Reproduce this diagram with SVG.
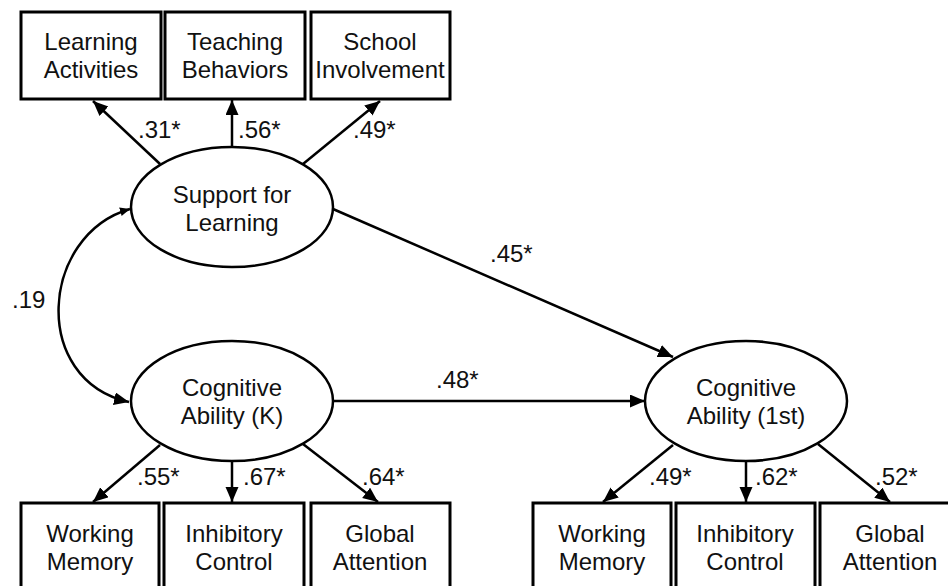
<svg xmlns="http://www.w3.org/2000/svg" width="948" height="586" viewBox="0 0 948 586">
  <defs>
    <style>
      .box { fill: #fff; stroke: #000; stroke-width: 3; }
      .lat { fill: #fff; stroke: #000; stroke-width: 2.5; }
      .lbl { font-family: "Liberation Sans", Arial, sans-serif; font-size: 24px; fill: #111; text-anchor: middle; }
      .coef { font-family: "Liberation Sans", Arial, sans-serif; font-size: 24px; fill: #111; }
      .path { fill: none; stroke: #000; stroke-width: 2.5; marker-end: url(#arrow); }
    </style>
    <marker id="arrow" markerUnits="userSpaceOnUse" markerWidth="16" markerHeight="14" refX="15" refY="6.5" orient="auto">
      <path d="M0,0 L15,6.5 L0,13 z" fill="#000"/>
    </marker>
    <marker id="arrowSmall" markerUnits="userSpaceOnUse" markerWidth="12" markerHeight="10" refX="10" refY="4.5" orient="auto-start-reverse">
      <path d="M0,0 L10,4.5 L0,9 z" fill="#000"/>
    </marker>
  </defs>

  <!-- connectors -->
  <g id="connectors">
    <!-- Support for Learning indicators -->
    <line class="path" x1="160" y1="164" x2="93" y2="101"/>
    <line class="path" x1="232" y1="147" x2="232" y2="100"/>
    <line class="path" x1="303" y1="164" x2="380" y2="101"/>
    <!-- structural paths -->
    <line class="path" x1="333" y1="209" x2="673" y2="357"/>
    <line class="path" x1="333" y1="401" x2="645" y2="401"/>
    <!-- covariance -->
    <path d="M130,209 C40,235 30,380 129,402" fill="none" stroke="#000" stroke-width="2.5" marker-start="url(#arrowSmall)" marker-end="url(#arrow)"/>
    <!-- Cognitive Ability (K) indicators -->
    <line class="path" x1="160" y1="445" x2="93" y2="502"/>
    <line class="path" x1="232" y1="462" x2="232" y2="502"/>
    <line class="path" x1="303" y1="444" x2="378" y2="502"/>
    <!-- Cognitive Ability (1st) indicators -->
    <line class="path" x1="673" y1="445" x2="603" y2="502"/>
    <line class="path" x1="746" y1="462" x2="746" y2="502"/>
    <line class="path" x1="818" y1="444" x2="890" y2="502"/>

    <!-- coefficients -->
    <text class="coef" x="138" y="138">.31*</text>
    <text class="coef" x="238" y="138">.56*</text>
    <text class="coef" x="353" y="138">.49*</text>
    <text class="coef" x="490" y="262">.45*</text>
    <text class="coef" x="12" y="308">.19</text>
    <text class="coef" x="436" y="388">.48*</text>
    <text class="coef" x="137" y="485">.55*</text>
    <text class="coef" x="243" y="485">.67*</text>
    <text class="coef" x="362" y="485">.64*</text>
    <text class="coef" x="649" y="485">.49*</text>
    <text class="coef" x="755" y="485">.62*</text>
    <text class="coef" x="875" y="485">.52*</text>
  </g>

  <!-- top indicators -->
  <g id="learning-activities">
    <rect class="box" x="21" y="12" width="140" height="87"/>
    <text class="lbl" x="91" y="50">Learning</text>
    <text class="lbl" x="91" y="78">Activities</text>
  </g>
  <g id="teaching-behaviors">
    <rect class="box" x="165" y="12" width="140" height="87"/>
    <text class="lbl" x="235" y="50">Teaching</text>
    <text class="lbl" x="235" y="78">Behaviors</text>
  </g>
  <g id="school-involvement">
    <rect class="box" x="311" y="12" width="139" height="87"/>
    <text class="lbl" x="380" y="50">School</text>
    <text class="lbl" x="380" y="78">Involvement</text>
  </g>

  <!-- latent variables -->
  <g id="support-for-learning">
    <ellipse class="lat" cx="232" cy="207" rx="101" ry="60"/>
    <text class="lbl" x="232" y="203">Support for</text>
    <text class="lbl" x="232" y="231">Learning</text>
  </g>
  <g id="cognitive-k">
    <ellipse class="lat" cx="232" cy="401" rx="101" ry="60"/>
    <text class="lbl" x="232" y="396">Cognitive</text>
    <text class="lbl" x="232" y="424">Ability (K)</text>
  </g>
  <g id="cognitive-1st">
    <ellipse class="lat" cx="746" cy="401" rx="101" ry="60"/>
    <text class="lbl" x="746" y="396">Cognitive</text>
    <text class="lbl" x="746" y="424">Ability (1st)</text>
  </g>

  <!-- bottom indicators, kindergarten -->
  <g id="wm-k">
    <rect class="box" x="21" y="503" width="138" height="90"/>
    <text class="lbl" x="90" y="542">Working</text>
    <text class="lbl" x="90" y="570">Memory</text>
  </g>
  <g id="ic-k">
    <rect class="box" x="164" y="503" width="140" height="90"/>
    <text class="lbl" x="234" y="542">Inhibitory</text>
    <text class="lbl" x="234" y="570">Control</text>
  </g>
  <g id="ga-k">
    <rect class="box" x="311" y="503" width="139" height="90"/>
    <text class="lbl" x="380" y="542">Global</text>
    <text class="lbl" x="380" y="570">Attention</text>
  </g>

  <!-- bottom indicators, first grade -->
  <g id="wm-1st">
    <rect class="box" x="533" y="503" width="138" height="90"/>
    <text class="lbl" x="602" y="542">Working</text>
    <text class="lbl" x="602" y="570">Memory</text>
  </g>
  <g id="ic-1st">
    <rect class="box" x="676" y="503" width="139" height="90"/>
    <text class="lbl" x="745" y="542">Inhibitory</text>
    <text class="lbl" x="745" y="570">Control</text>
  </g>
  <g id="ga-1st">
    <rect class="box" x="820" y="503" width="140" height="90"/>
    <text class="lbl" x="890" y="542">Global</text>
    <text class="lbl" x="890" y="570">Attention</text>
  </g>
</svg>
